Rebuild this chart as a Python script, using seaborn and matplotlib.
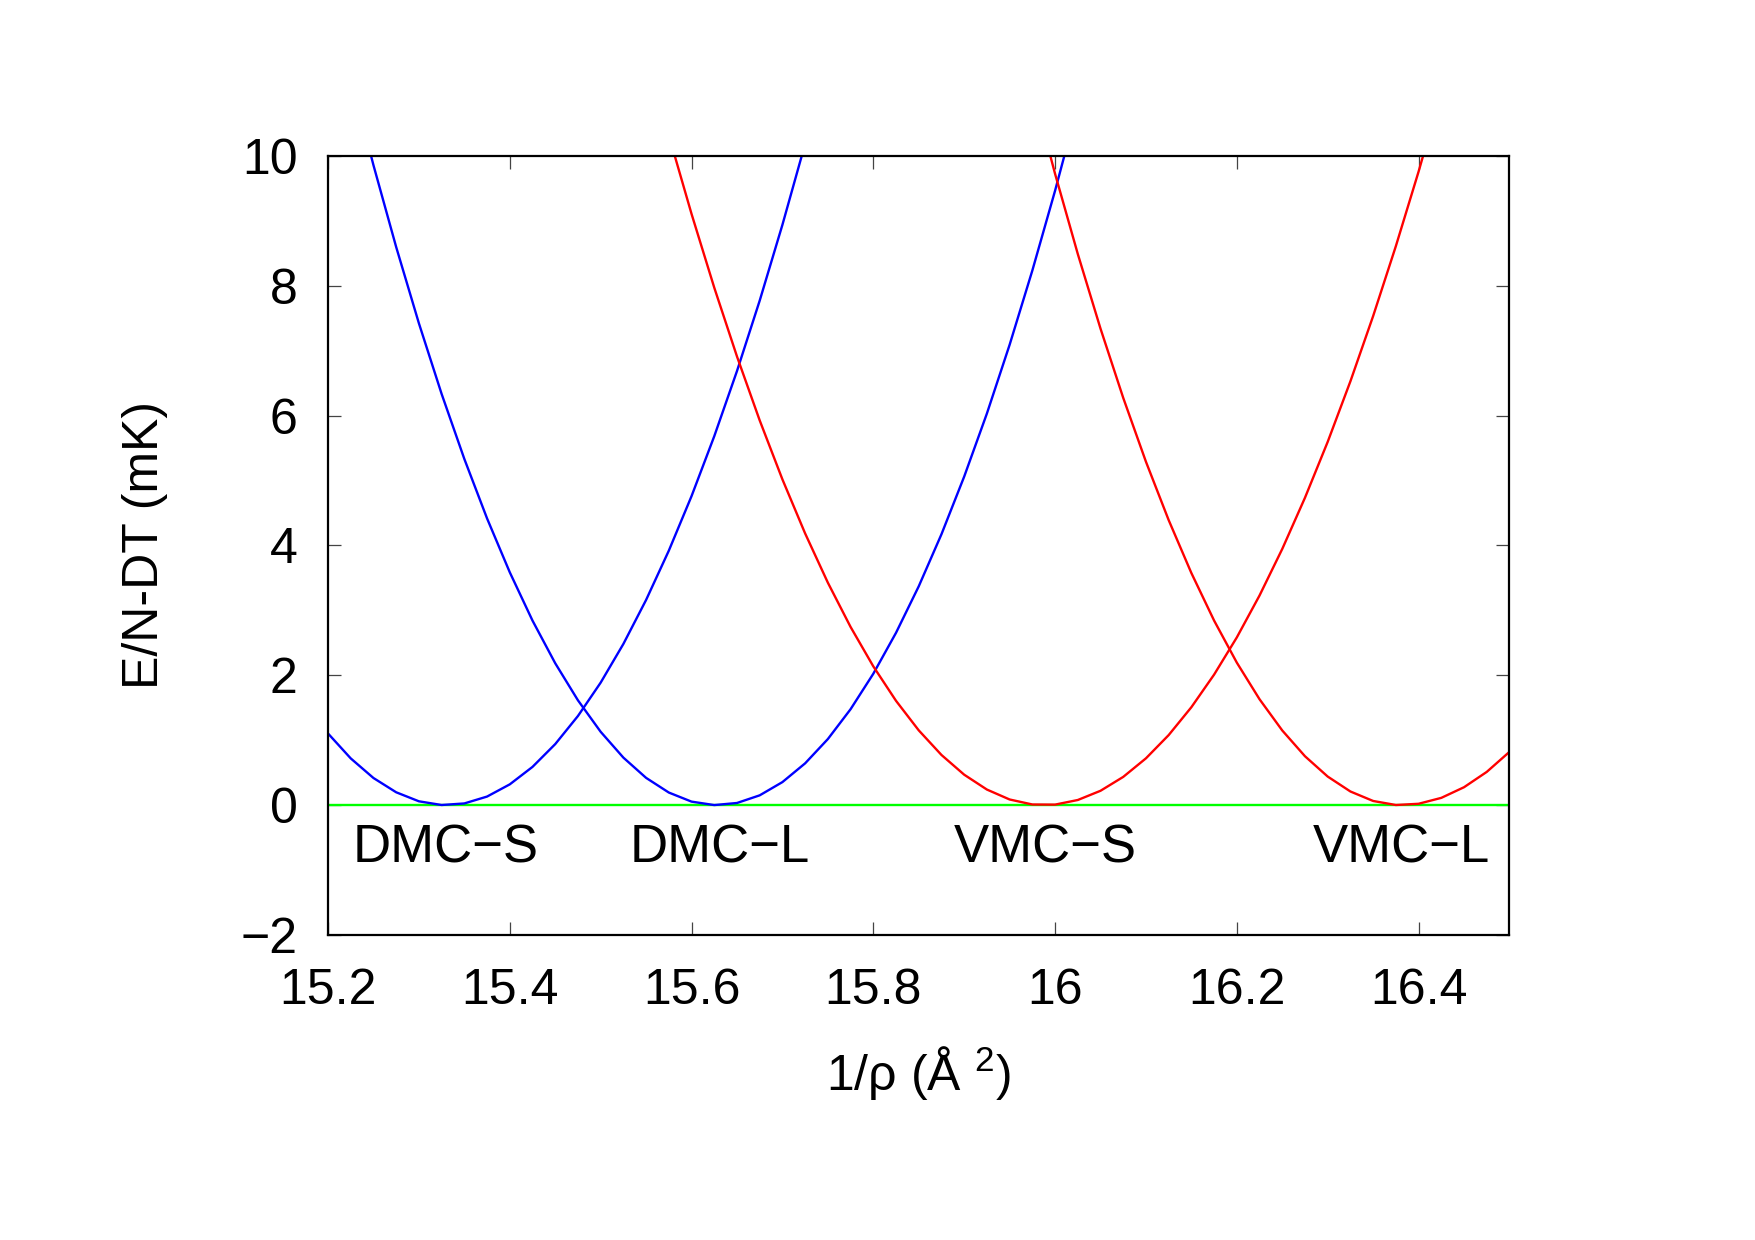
import matplotlib
matplotlib.use("Agg")
import matplotlib.pyplot as plt
import seaborn as sns
import pandas as pd

# ---- data ----
dmc_s_x = [15.200, 15.225, 15.250, 15.275, 15.300, 15.325, 15.350, 15.375, 15.400, 15.425,
           15.450, 15.475, 15.500, 15.525, 15.550, 15.575, 15.600, 15.625, 15.650, 15.675,
           15.700, 15.725, 15.750]
dmc_s_y = [1.104, 0.720, 0.418, 0.198, 0.059, 0.002, 0.026, 0.132, 0.320, 0.589,
           0.940, 1.373, 1.887, 2.483, 3.161, 3.920, 4.760, 5.683, 6.687, 7.772,
           8.940, 10.188, 11.519]

dmc_l_x = [15.225, 15.250, 15.275, 15.300, 15.325, 15.350, 15.375, 15.400, 15.425, 15.450,
           15.475, 15.500, 15.525, 15.550, 15.575, 15.600, 15.625, 15.650, 15.675, 15.700,
           15.725, 15.750, 15.775, 15.800, 15.825, 15.850, 15.875, 15.900, 15.925, 15.950,
           15.975, 16.000, 16.025]
dmc_l_y = [11.206, 9.859, 8.598, 7.423, 6.335, 5.333, 4.417, 3.587, 2.843, 2.186,
           1.615, 1.130, 0.732, 0.420, 0.194, 0.054, 0.001, 0.033, 0.151, 0.355,
           0.644, 1.018, 1.478, 2.024, 2.655, 3.371, 4.173, 5.061, 6.033, 7.092,
           8.236, 9.465, 10.780]

vmc_s_x = [15.550, 15.575, 15.600, 15.625, 15.650, 15.675, 15.700, 15.725, 15.750, 15.775,
           15.800, 15.825, 15.850, 15.875, 15.900, 15.925, 15.950, 15.975, 16.000, 16.025,
           16.050, 16.075, 16.100, 16.125, 16.150, 16.175, 16.200, 16.225, 16.250, 16.275,
           16.300, 16.325, 16.350, 16.375, 16.400, 16.425]
vmc_s_y = [11.607, 10.319, 9.108, 7.972, 6.912, 5.927, 5.018, 4.185, 3.427, 2.745,
           2.138, 1.607, 1.152, 0.773, 0.469, 0.240, 0.087, 0.010, 0.008, 0.079,
           0.221, 0.435, 0.721, 1.079, 1.509, 2.011, 2.584, 3.230, 3.947, 4.736,
           5.597, 6.530, 7.535, 8.612, 9.760, 10.981]

vmc_l_x = [15.975, 16.000, 16.025, 16.050, 16.075, 16.100, 16.125, 16.150, 16.175, 16.200,
           16.225, 16.250, 16.275, 16.300, 16.325, 16.350, 16.375, 16.400, 16.425, 16.450,
           16.475, 16.500]
vmc_l_y = [11.044, 9.726, 8.491, 7.341, 6.274, 5.290, 4.391, 3.575, 2.843, 2.195,
           1.631, 1.150, 0.753, 0.440, 0.210, 0.064, 0.002, 0.021, 0.112, 0.276,
           0.512, 0.821]

zero_x = [15.2, 16.5]
zero_y = [0.0, 0.0]

label_texts = ["DMC\u2212S", "DMC\u2212L", "VMC\u2212S", "VMC\u2212L"]
label_x = [15.329, 15.631, 15.989, 16.381]
label_y = [-0.67, -0.67, -0.67, -0.67]

x_ticks = [15.2, 15.4, 15.6, 15.8, 16.0, 16.2, 16.4]
x_tick_labels = ["15.2", "15.4", "15.6", "15.8", "16", "16.2", "16.4"]
y_ticks = [-2, 0, 2, 4, 6, 8, 10]

# ---- styling ----
sns.set_theme(style="white")
plt.rcParams["font.family"] = ["Liberation Sans", "DejaVu Sans"]
plt.rcParams["mathtext.fontset"] = "custom"
plt.rcParams["mathtext.rm"] = "Liberation Sans"
plt.rcParams["mathtext.it"] = "Liberation Sans:italic"
for k in ["text.color", "axes.labelcolor", "xtick.color", "ytick.color"]:
    plt.rcParams[k] = "black"

fig = plt.figure(figsize=(17.55, 12.40), dpi=100)
ax = fig.add_axes([0.1869, 0.2460, 0.6732, 0.6282])

lw = 1.7
curves = [
    (dmc_s_x, dmc_s_y, "#0000ff"),
    (dmc_l_x, dmc_l_y, "#0000ff"),
    (vmc_s_x, vmc_s_y, "#ff0000"),
    (vmc_l_x, vmc_l_y, "#ff0000"),
]
sns.lineplot(x=zero_x, y=zero_y, color="#00ff00", linewidth=lw, ax=ax)
for xs, ys, c in curves:
    df = pd.DataFrame({"x": xs, "y": ys})
    sns.lineplot(data=df, x="x", y="y", color=c, linewidth=lw, ax=ax,
                 estimator=None, sort=False)

for t, xx, yy in zip(label_texts, label_x, label_y):
    ax.text(xx, yy, t, ha="center", va="center", fontsize=38, color="black")

ax.set_xlim(15.2, 16.5)
ax.set_ylim(-2, 10)
ax.set_xticks(x_ticks)
ax.set_xticklabels(x_tick_labels)
ax.set_yticks(y_ticks)
ax.tick_params(axis="both", which="both", direction="in", length=9.5, width=0.9,
               color="#444444", labelsize=36, labelcolor="black",
               top=True, right=True, bottom=True, left=True)
ax.tick_params(axis="x", pad=24)
ax.tick_params(axis="y", pad=22)
for s in ax.spines.values():
    s.set_color("black")
    s.set_linewidth(1.6)

ax.set_xlabel(r"1/ρ (Å $^{2}$)", fontsize=36, labelpad=22, color="black")
ax.set_ylabel("E/N-DT (mK)", fontsize=36, labelpad=52, color="black")

fig.savefig("out.png", dpi=100, facecolor="white")
